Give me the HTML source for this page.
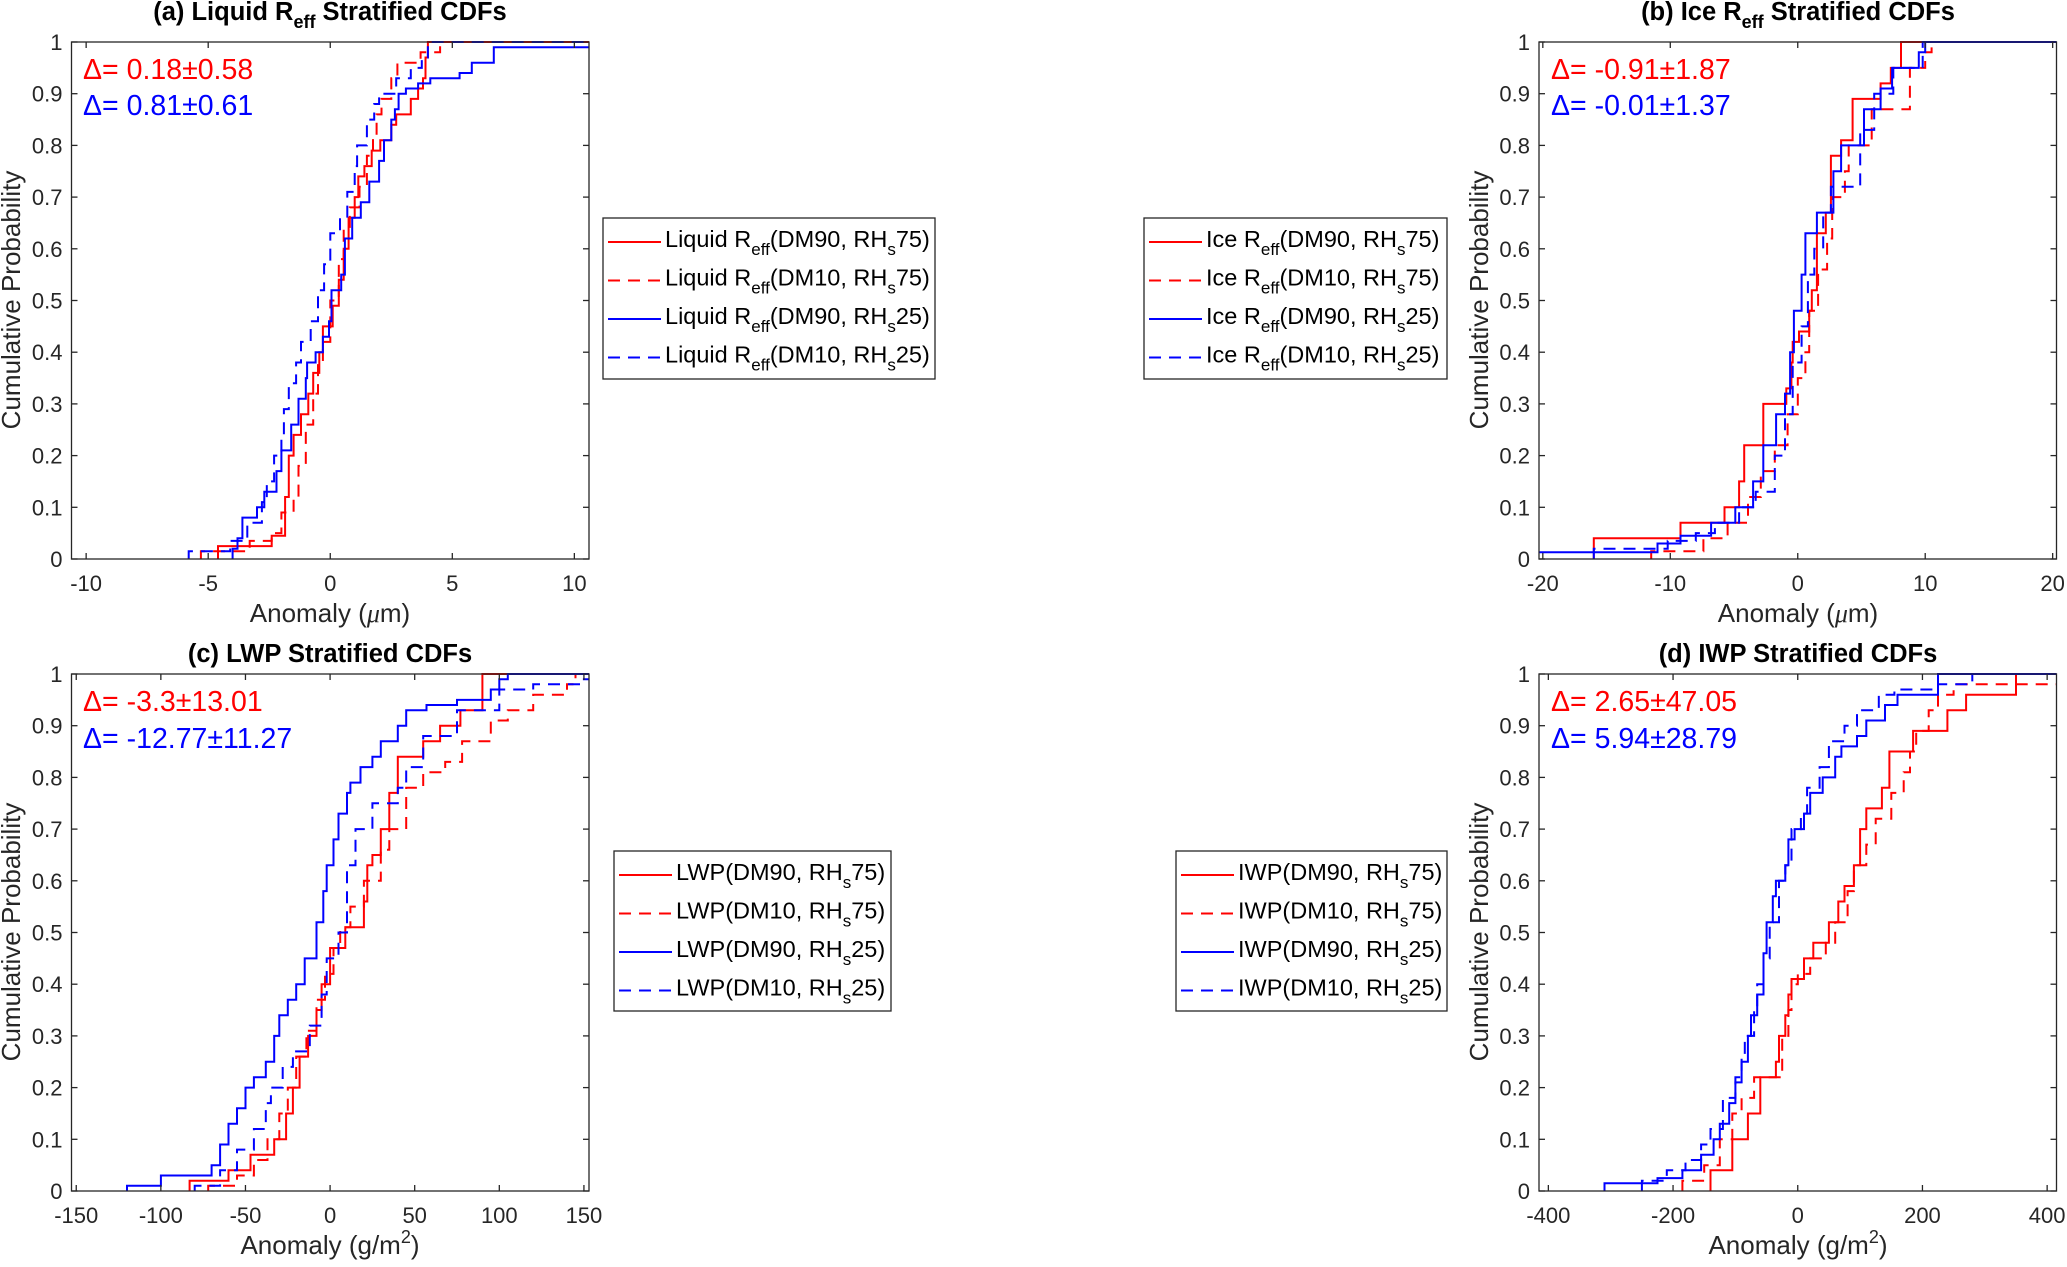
<!DOCTYPE html>
<html><head><meta charset="utf-8"><style>
html,body{margin:0;padding:0;background:#fff;}
svg{display:block;font-family:"Liberation Sans",Arial,sans-serif;}
</style></head><body>
<svg id="fig" width="2067" height="1267" viewBox="0 0 2067 1267" xmlns="http://www.w3.org/2000/svg"></svg>
<script>
// ---------- data: panel (a) Liquid Reff ----------
const aRedSolidX=[-4.6,-2.4,-1.85,-1.7,-1.5,-1.2,-0.9,-0.7,-0.45,-0.3,0.1,0.35,0.55,0.75,1.0,1.15,1.4,1.7,2.05,2.5,2.7,3.3,3.6,3.8,3.9,4.0];
const aRedSolidP=[0.025,0.045,0.12,0.2,0.24,0.28,0.32,0.36,0.4,0.45,0.49,0.54,0.6,0.66,0.7,0.74,0.76,0.79,0.81,0.84,0.86,0.89,0.91,0.93,0.97,1.0];
const aRedDashX=[-5.3,-3.3,-2.4,-2.0,-1.5,-1.3,-1.0,-0.7,-0.5,-0.3,0,0.35,0.55,0.8,1.2,1.5,1.75,1.9,2.1,2.5,2.75,3.7,4.5];
const aRedDashP=[0.015,0.035,0.05,0.09,0.12,0.18,0.26,0.32,0.38,0.42,0.5,0.58,0.64,0.68,0.72,0.78,0.82,0.86,0.89,0.93,0.96,0.98,1.0];
const aBlueSolidX=[-4.0,-3.8,-3.6,-3.0,-2.7,-2.2,-2.0,-1.6,-1.3,-1.0,-0.95,-0.6,-0.3,-0.05,0.05,0.45,0.6,0.9,1.25,1.6,2.0,2.2,2.5,2.65,2.8,3.1,3.6,4.1,5.3,5.8,6.7,11];
const aBlueSolidP=[0.02,0.04,0.08,0.1,0.13,0.17,0.21,0.26,0.31,0.35,0.38,0.4,0.43,0.46,0.52,0.55,0.62,0.66,0.69,0.73,0.77,0.81,0.85,0.87,0.9,0.91,0.92,0.93,0.94,0.96,0.99,1.0];
const aBlueDashX=[-5.8,-4.1,-3.4,-2.8,-2.6,-2.3,-2.0,-1.9,-1.7,-1.4,-1.2,-0.8,-0.5,-0.25,0.0,0.4,0.7,1.0,1.1,1.5,1.8,2.0,2.7,3.3,3.75,4.0];
const aBlueDashP=[0.015,0.035,0.07,0.11,0.15,0.2,0.24,0.29,0.34,0.38,0.42,0.46,0.52,0.57,0.63,0.66,0.71,0.76,0.8,0.85,0.88,0.9,0.93,0.95,0.97,1.0];
// ---------- data: panel (b) Ice Reff ----------
const bRedSolidX=[-16,-9.2,-5.75,-4.6,-4.2,-2.7,-0.9,-0.5,-0.4,0.1,0.9,1.1,1.5,2.2,2.6,3.4,4.3,6.5,7.3,8.1];
const bRedSolidP=[0.04,0.07,0.1,0.15,0.22,0.3,0.33,0.38,0.42,0.44,0.48,0.52,0.63,0.67,0.78,0.81,0.89,0.92,0.95,1.0];
const bRedDashX=[-11.5,-7.4,-5.5,-3.9,-2.9,-1.8,-0.8,0,0.6,0.9,1.6,2.3,2.7,3.7,4.0,5.8,8.8,10,10.5];
const bRedDashP=[0.015,0.04,0.07,0.12,0.17,0.22,0.28,0.35,0.4,0.48,0.56,0.62,0.7,0.75,0.8,0.87,0.95,0.98,1.0];
const bBlueSolidX=[-20.5,-11,-9.2,-6.8,-4.9,-3.5,-2.7,-1.7,-1.0,-0.6,-0.3,0.3,0.6,1.5,2.8,3.4,5.2,6.5,7.4,9.5,10];
const bBlueSolidP=[0.013,0.03,0.045,0.07,0.1,0.15,0.22,0.28,0.32,0.4,0.48,0.55,0.63,0.67,0.75,0.8,0.87,0.91,0.95,0.98,1.0];
const bBlueDashX=[-16,-10.2,-8,-6.5,-4.6,-3.3,-1.8,-1.0,-0.4,0.3,0.8,1.3,2.0,2.6,4.9,6.0,7.5,9.8];
const bBlueDashP=[0.02,0.035,0.05,0.07,0.1,0.13,0.2,0.28,0.38,0.45,0.55,0.6,0.67,0.72,0.83,0.9,0.95,1.0];
// ---------- data: panel (c) LWP ----------
const cRedSolidX=[-83,-60,-47,-33,-26,-22,-18,-13,-8,-5,0,9,20,22,25,30,35,40,55,65,77,90];
const cRedSolidP=[0.02,0.04,0.07,0.1,0.15,0.2,0.26,0.3,0.35,0.4,0.47,0.51,0.56,0.63,0.65,0.7,0.77,0.84,0.87,0.9,0.93,1.0];
const cRedDashX=[-72,-55,-45,-37,-30,-25,-20,-14,-8,-3,2,6,12,20,30,35,45,55,68,78,95,105,120,140,145];
const cRedDashP=[0.01,0.03,0.06,0.1,0.15,0.2,0.26,0.31,0.37,0.42,0.47,0.51,0.55,0.6,0.66,0.7,0.78,0.81,0.83,0.87,0.91,0.93,0.96,0.98,1.0];
const cBlueSolidX=[-120,-100,-95,-70,-65,-60,-55,-50,-45,-38,-33,-30,-25,-20,-15,-8,-4,-2,2,5,10,12,18,25,30,40,45,57,75,95,100,105];
const cBlueSolidP=[0.01,0.03,0.03,0.05,0.09,0.13,0.16,0.2,0.22,0.25,0.3,0.34,0.37,0.4,0.45,0.52,0.58,0.63,0.68,0.73,0.77,0.79,0.82,0.84,0.87,0.9,0.93,0.94,0.95,0.97,0.99,1.0];
const cBlueDashX=[-80,-65,-55,-45,-38,-35,-28,-22,-12,-5,-2,5,10,15,25,40,45,55,75,100,120,150,160];
const cBlueDashP=[0.01,0.04,0.08,0.12,0.17,0.2,0.24,0.27,0.32,0.38,0.45,0.5,0.63,0.7,0.75,0.78,0.82,0.88,0.93,0.97,0.98,0.99,1.0];
// ---------- data: panel (d) IWP ----------
const dRedSolidX=[-140,-105,-80,-60,-35,-30,-20,-15,-10,10,25,50,65,75,90,100,110,135,147,185,240,270,350];
const dRedSolidP=[0.04,0.1,0.15,0.22,0.25,0.3,0.34,0.38,0.41,0.45,0.48,0.52,0.56,0.59,0.63,0.7,0.74,0.78,0.85,0.89,0.93,0.96,1.0];
const dRedDashX=[-185,-150,-125,-105,-90,-70,-25,-15,-10,0,20,45,60,80,90,110,125,150,170,180,190,210,225,250,460];
const dRedDashP=[0.02,0.05,0.1,0.15,0.18,0.22,0.3,0.35,0.4,0.42,0.45,0.48,0.52,0.58,0.63,0.67,0.72,0.77,0.81,0.85,0.89,0.93,0.96,0.98,1.0];
const dBlueSolidX=[-310,-225,-185,-155,-135,-125,-110,-100,-90,-80,-75,-65,-55,-50,-40,-35,-20,-15,-5,10,20,40,60,70,95,110,140,160,225];
const dBlueSolidP=[0.015,0.025,0.04,0.07,0.1,0.13,0.17,0.21,0.25,0.3,0.34,0.38,0.46,0.52,0.57,0.6,0.63,0.68,0.7,0.73,0.77,0.8,0.84,0.86,0.88,0.91,0.94,0.96,1.0];
const dBlueDashX=[-250,-210,-180,-155,-140,-120,-100,-90,-85,-70,-65,-55,-45,-30,-20,-10,5,15,35,50,75,95,130,155,225,280];
const dBlueDashP=[0.02,0.04,0.06,0.09,0.12,0.18,0.22,0.26,0.3,0.35,0.4,0.45,0.52,0.6,0.63,0.7,0.73,0.78,0.82,0.87,0.9,0.93,0.96,0.97,0.98,1.0];
// ---------- tick labels ----------
const yTicks=[0,0.1,0.2,0.3,0.4,0.5,0.6,0.7,0.8,0.9,1];
const aXTicks=[-10,-5,0,5,10];
const bXTicks=[-20,-10,0,10,20];
const cXTicks=[-150,-100,-50,0,50,100,150];
const dXTicks=[-400,-200,0,200,400];

const NS="http://www.w3.org/2000/svg";
const svg=document.getElementById('fig');
function mk(tag,attrs,parent){const e=document.createElementNS(NS,tag);for(const k in attrs)e.setAttribute(k,attrs[k]);(parent||svg).appendChild(e);return e;}

const RED="#ff0000", BLUE="#0000ff", AX="#262626";
const panels=[
 {id:'a',L:71.5,R:589,T:42,B:559,xmin:-10.6,xmax:10.6,ticks:aXTicks,
  series:[[aRedSolidX,aRedSolidP,RED,false,'red-solid'],[aRedDashX,aRedDashP,RED,true,'red-dashed'],[aBlueSolidX,aBlueSolidP,BLUE,false,'blue-solid'],[aBlueDashX,aBlueDashP,BLUE,true,'blue-dashed']]},
 {id:'b',L:1539,R:2056.5,T:42,B:559,xmin:-20.3,xmax:20.3,ticks:bXTicks,
  series:[[bRedSolidX,bRedSolidP,RED,false,'red-solid'],[bRedDashX,bRedDashP,RED,true,'red-dashed'],[bBlueSolidX,bBlueSolidP,BLUE,false,'blue-solid'],[bBlueDashX,bBlueDashP,BLUE,true,'blue-dashed']]},
 {id:'c',L:71.5,R:589,T:674,B:1191,xmin:-152.8,xmax:153,ticks:cXTicks,
  series:[[cRedSolidX,cRedSolidP,RED,false,'red-solid'],[cRedDashX,cRedDashP,RED,true,'red-dashed'],[cBlueSolidX,cBlueSolidP,BLUE,false,'blue-solid'],[cBlueDashX,cBlueDashP,BLUE,true,'blue-dashed']]},
 {id:'d',L:1539,R:2056.5,T:674,B:1191,xmin:-415,xmax:415,ticks:dXTicks,
  series:[[dRedSolidX,dRedSolidP,RED,false,'red-solid'],[dRedDashX,dRedDashP,RED,true,'red-dashed'],[dBlueSolidX,dBlueSolidP,BLUE,false,'blue-solid'],[dBlueDashX,dBlueDashP,BLUE,true,'blue-dashed']]}
];

const defs=mk('defs',{});
panels.forEach(p=>{
  const xs=v=>p.L+(v-p.xmin)/(p.xmax-p.xmin)*(p.R-p.L);
  const ys=v=>p.B-v*(p.B-p.T);
  const g=mk('g',{});
  
  
  const cp=mk('clipPath',{id:'clip'+p.id},defs);
  mk('rect',{x:p.L,y:p.T-2,width:p.R-p.L,height:p.B-p.T+4},cp);
  const sg=mk('g',{'clip-path':'url(#clip'+p.id+')'},g);
  p.series.forEach(s=>{
    const [X,P,col,dash,nm]=s;
    let d='M'+xs(X[0]).toFixed(1)+','+ys(0);
    for(let i=0;i<X.length;i++){
      d+=' V'+ys(P[i]).toFixed(1);
      const nx=i+1<X.length?xs(X[i+1]):p.R+5;
      d+=' H'+nx.toFixed(1);
    }
    const path=mk('path',{d:d,fill:'none',stroke:col,'stroke-width':2,'stroke-dasharray':dash?'12,8':'none'},sg);
    
    
  });
  const box=mk('rect',{x:p.L,y:p.T,width:p.R-p.L,height:p.B-p.T,fill:'none',stroke:AX,'stroke-width':1.3},g);
  
  
  yTicks.forEach(t=>{
    const y=ys(t);
    mk('line',{x1:p.L,x2:p.L+6,y1:y,y2:y,stroke:AX,'stroke-width':1.3},g);
    mk('line',{x1:p.R,x2:p.R-6,y1:y,y2:y,stroke:AX,'stroke-width':1.3},g);
    const tx=mk('text',{x:p.L-9,y:y+8,'text-anchor':'end','font-size':22,fill:AX},g);
    tx.textContent=String(t);
    
    
  });
  p.ticks.forEach(t=>{
    const x=xs(t);
    mk('line',{x1:x,x2:x,y1:p.B,y2:p.B-6,stroke:AX,'stroke-width':1.3},g);
    mk('line',{x1:x,x2:x,y1:p.T,y2:p.T+6,stroke:AX,'stroke-width':1.3},g);
    const tx=mk('text',{x:x,y:p.B+32,'text-anchor':'middle','font-size':22,fill:AX},g);
    tx.textContent=String(t);
    
    
  });
});
</script>
<script>
const fig=document.getElementById('fig');
fig.insertAdjacentHTML('beforeend',`
<g font-family="Liberation Sans, Arial, sans-serif" fill="#000">
 <text x="330" y="20" text-anchor="middle" font-size="25.5" font-weight="bold">(a) Liquid R<tspan font-size="18" dy="8">eff</tspan><tspan dy="-8"> Stratified CDFs</tspan></text>
 <text x="1798" y="20" text-anchor="middle" font-size="25.5" font-weight="bold">(b) Ice R<tspan font-size="18" dy="8">eff</tspan><tspan dy="-8"> Stratified CDFs</tspan></text>
 <text x="330" y="662" text-anchor="middle" font-size="25.5" font-weight="bold">(c) LWP Stratified CDFs</text>
 <text x="1798" y="662" text-anchor="middle" font-size="25.5" font-weight="bold">(d) IWP Stratified CDFs</text>

 <text x="330" y="622" text-anchor="middle" font-size="26" fill="#262626">Anomaly (<tspan font-family="Liberation Serif, serif" font-style="italic">μ</tspan>m)</text>
 <text x="1798" y="622" text-anchor="middle" font-size="26" fill="#262626">Anomaly (<tspan font-family="Liberation Serif, serif" font-style="italic">μ</tspan>m)</text>
 <text x="330" y="1254" text-anchor="middle" font-size="26" fill="#262626">Anomaly (g/m<tspan font-size="18" dy="-11">2</tspan><tspan dy="11">)</tspan></text>
 <text x="1798" y="1254" text-anchor="middle" font-size="26" fill="#262626">Anomaly (g/m<tspan font-size="18" dy="-11">2</tspan><tspan dy="11">)</tspan></text>

 <text transform="translate(20,300) rotate(-90)" text-anchor="middle" font-size="26" fill="#262626">Cumulative Probability</text>
 <text transform="translate(1488,300) rotate(-90)" text-anchor="middle" font-size="26" fill="#262626">Cumulative Probability</text>
 <text transform="translate(20,932) rotate(-90)" text-anchor="middle" font-size="26" fill="#262626">Cumulative Probability</text>
 <text transform="translate(1488,932) rotate(-90)" text-anchor="middle" font-size="26" fill="#262626">Cumulative Probability</text>

 <text x="83" y="79" font-size="28.5" fill="#ff0000">Δ= 0.18±0.58</text>
 <text x="83" y="115" font-size="28.5" fill="#0000ff">Δ= 0.81±0.61</text>
 <text x="1551" y="79" font-size="28.5" fill="#ff0000">Δ= -0.91±1.87</text>
 <text x="1551" y="115" font-size="28.5" fill="#0000ff">Δ= -0.01±1.37</text>
 <text x="83" y="711" font-size="28.5" fill="#ff0000">Δ= -3.3±13.01</text>
 <text x="83" y="748" font-size="28.5" fill="#0000ff">Δ= -12.77±11.27</text>
 <text x="1551" y="711" font-size="28.5" fill="#ff0000">Δ= 2.65±47.05</text>
 <text x="1551" y="748" font-size="28.5" fill="#0000ff">Δ= 5.94±28.79</text>
</g>`);

const legends=[
 {name:'legend-a',L:603,R:935,T:218,B:379,pre:'Liquid R',sub:'eff'},
 {name:'legend-b',L:1144,R:1447,T:218,B:379,pre:'Ice R',sub:'eff'},
 {name:'legend-c',L:614,R:891,T:851,B:1011,pre:'LWP',sub:''},
 {name:'legend-d',L:1176,R:1447,T:851,B:1011,pre:'IWP',sub:''}
];
const legDM=['DM90','DM10','DM90','DM10'];
const legRH=['75','75','25','25'];
const legCol=['#ff0000','#ff0000','#0000ff','#0000ff'];
const legDash=[false,true,false,true];
legends.forEach(lg=>{
  let h='<g><rect x="'+lg.L+'" y="'+lg.T+'" width="'+(lg.R-lg.L)+'" height="'+(lg.B-lg.T)+'" fill="#fff" stroke="#262626" stroke-width="1.3"/>';
  for(let i=0;i<4;i++){
    const by=lg.T+29+i*38.5;
    h+='<line x1="'+(lg.L+5)+'" x2="'+(lg.L+58)+'" y1="'+(by-5)+'" y2="'+(by-5)+'" stroke="'+legCol[i]+'" stroke-width="2"'+(legDash[i]?' stroke-dasharray="12,8"':'')+'/>';
    const subpart=lg.sub?'<tspan font-size="17" dy="8">'+lg.sub+'</tspan><tspan dy="-8">':'<tspan>';
    h+='<text x="'+(lg.L+62)+'" y="'+by+'" font-size="23.5" fill="#000" font-family="Liberation Sans, Arial, sans-serif">'+lg.pre+subpart+'(</tspan><tspan>'+legDM[i]+', RH</tspan><tspan font-size="17" dy="8">s</tspan><tspan dy="-8">'+legRH[i]+')</tspan></text>';
  }
  h+='</g>';
  fig.insertAdjacentHTML('beforeend',h);
});
</script>
</body></html>
